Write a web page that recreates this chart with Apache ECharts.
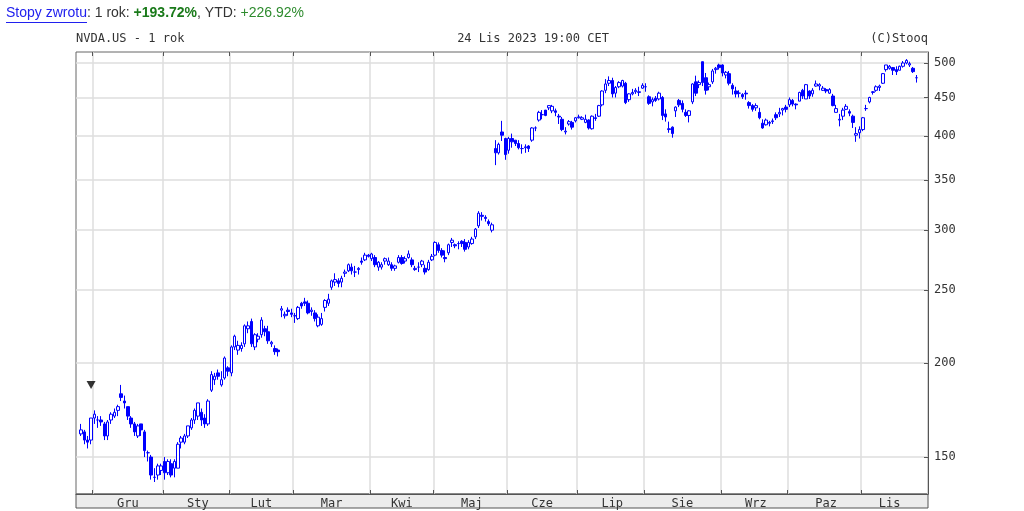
<!DOCTYPE html>
<html><head><meta charset="utf-8">
<script src="https://cdn.jsdelivr.net/npm/echarts@6/dist/echarts.min.js"></script>
<style>html,body{margin:0;padding:0;background:#fff}#c{width:1024px;height:511px}</style>
</head><body><div id="c"></div>
<script>
// [open, close, low, high]
const nov22=[[161,163,160,166],[162,158,156,163],[158,157,154,160],[158,169,156,169]];
const dec22=[[169,171,166,173],[168,168,164,170],[168,167,165,170],[166,160,158,167],[160,167,158,168],[168,171,166,172],[170,172,169,174],[173,175,170,176],[182,180,178,187],[178,177,174,181],[175,170,168,175],[169,166,164,170],[166,162,160,167],[160,165,159,166],[166,163,160,166],[162,153,150,163],[152,152,148,153],[150,142,140,151],[141,141,139,145],[142,146,140,147],[144,146,142,147]];
const jan23=[[148,143,140,150],[143,148,142,149],[147,142,141,149],[145,148,141,149],[145,156,145,157],[157,159,154,160],[157,160,156,161],[160,165,159,165],[164,168,163,169],[168,173,166,174],[170,177,168,177],[172,168,165,174],[169,166,164,171],[166,178,165,179],[184,193,183,195],[190,192,187,194],[194,192,190,196],[187,190,186,195],[191,203,190,204],[197,195,192,198]];
const feb23=[[194,210,192,211],[210,217,208,218],[208,211,205,214],[209,211,207,213],[212,224,210,225],[222,224,219,227],[227,212,210,229],[210,218,208,219],[215,217,213,219],[218,228,216,230],[222,220,217,224],[220,214,212,224],[212,213,210,214],[209,207,205,211],[208,207,204,209],[235,236,230,238],[231,232,229,234],[235,234,231,237],[233,232,230,236]];
const mar23=[[231,231,226,233],[229,237,228,238],[240,238,236,241],[241,240,238,244],[240,233,232,242],[234,235,231,237],[233,229,227,235],[224,230,223,232],[225,229,224,233],[237,242,234,243],[240,243,238,247],[252,257,250,258],[256,258,253,263],[257,255,252,259],[256,259,252,261],[263,264,260,266],[265,270,264,271],[268,265,262,271],[264,264,260,269],[266,267,262,268],[273,272,270,276],[274,278,273,280],[278,277,276,279]];
const apr23=[[275,279,273,280],[276,270,268,278],[268,272,265,273],[268,270,266,272],[273,275,270,276],[270,273,269,276],[270,267,265,272],[267,269,265,270],[272,276,271,278],[276,271,270,278],[273,275,271,277],[276,279,275,282],[274,270,268,276],[266,267,265,269],[268,268,264,272],[270,273,268,274],[267,264,262,270],[266,272,265,274],[274,277,273,279]];
const may23=[[278,289,277,290],[287,282,280,289],[282,278,276,284],[276,275,272,282],[280,287,278,288],[289,291,285,293],[287,286,284,288],[288,288,283,290],[290,288,285,291],[289,283,281,292],[285,289,283,291],[288,292,287,294],[294,301,292,302],[304,316,302,318],[314,313,309,317],[312,311,308,314],[308,306,304,310],[300,305,298,307],[385,380,366,395],[380,390,378,392],[405,401,394,419],[397,378,372,398]];
const jun23=[[383,397,379,399],[397,393,386,403],[395,391,388,395],[391,386,384,395],[385,385,379,390],[386,387,380,390],[388,385,381,389],[395,410,393,411],[410,410,406,412],[420,430,418,432],[427,427,421,433],[433,426,425,433],[436,439,433,439],[432,438,429,440],[432,430,425,435],[425,424,415,428],[421,408,406,424],[405,406,402,411],[415,418,413,420],[417,411,408,419],[419,423,417,424]];
const jul23=[[423,424,422,427],[421,423,420,425],[417,421,416,427],[420,410,408,421],[409,425,408,426],[423,422,419,428],[425,439,424,440],[440,459,438,460],[460,469,456,476],[470,474,466,480],[474,455,450,478],[456,464,450,466],[465,471,463,473],[466,474,464,475],[470,443,441,472],[447,455,444,456],[455,457,453,462],[458,460,455,463],[457,458,452,465],[463,467,462,470]];
const aug23=[[465,465,458,470],[451,442,440,453],[444,447,438,450],[449,446,444,452],[448,456,446,458],[450,426,420,452],[428,424,418,434],[409,408,404,418],[411,403,398,412],[432,437,424,438],[446,440,437,448],[442,434,430,446],[430,426,424,434],[426,432,417,433],[444,469,441,470],[472,456,452,481],[468,471,463,474],[502,471,466,502],[478,460,454,485],[465,468,460,471],[472,488,469,491],[490,492,484,494],[497,493,490,499]];
const sep23=[[497,485,480,498],[482,486,477,488],[484,470,467,488],[467,462,454,470],[459,455,450,465],[456,456,450,460],[454,451,448,456],[456,455,447,460],[443,439,435,445],[439,434,431,441],[436,439,432,442],[430,423,421,436],[416,410,409,421],[414,420,413,422],[417,416,412,419],[418,419,415,422],[427,423,420,430],[428,430,424,436],[433,435,426,436],[437,434,430,440]];
const oct23=[[440,447,437,450],[446,441,438,448],[441,440,434,442],[445,457,445,458],[460,452,448,462],[448,468,448,469],[459,452,448,460],[455,460,451,463],[466,469,465,474],[466,468,460,470],[460,463,459,466],[461,459,456,463],[456,461,455,463],[452,439,438,455],[430,435,430,440],[420,421,412,428],[425,433,420,436],[434,438,433,441],[431,429,425,434],[425,417,410,427],[401,403,393,411],[404,408,397,412]];
const nov23=[[408,423,406,424],[435,435,432,440],[444,450,442,451],[457,458,454,459],[460,465,458,467],[464,466,459,468],[470,484,469,485],[490,497,487,497],[492,495,490,497],[493,489,482,494],[490,487,482,495],[489,495,489,496],[495,500,493,503],[500,504,498,506],[497,499,494,502],[492,487,485,494],[478,478,471,482]];
const monthNames=['Sty','Lut','Mar','Kwi','Maj','Cze','Lip','Sie','Wrz','Paz','Lis','Gru'];
const yTicks=[150,200,250,300,350,400,450,500];
const holidays=['2022-12-26','2023-01-02','2023-01-16','2023-02-20','2023-04-07','2023-05-29','2023-06-19','2023-07-04','2023-09-04','2023-11-23'];
const markerDay='2022-11-30', markerValue=187;
const padStart=1, padEnd=3;

const ohlc=[].concat(nov22,dec22,jan23,feb23,mar23,apr23,may23,jun23,jul23,aug23,sep23,oct23,nov23);
const dates=[];
let d=new Date(Date.UTC(2022,10,25));
while(dates.length<ohlc.length){
  const s=d.toISOString().slice(0,10), wd=d.getUTCDay();
  if(wd!==0&&wd!==6&&holidays.indexOf(s)<0) dates.push(s);
  d=new Date(d.getTime()+86400000);
}
const cats=[], data=[];
for(let i=0;i<padStart;i++){cats.push('p'+i);data.push('-');}
dates.forEach((s,i)=>{cats.push(s);data.push(ohlc[i]);});
for(let i=0;i<padEnd;i++){cats.push('q'+i);data.push('-');}
const mon=i=>cats[i].length===10?cats[i].slice(0,7):null;
const isStart=i=>i>0&&mon(i)&&mon(i-1)&&mon(i)!==mon(i-1);
const midIdx={};
(function(){const g={};cats.forEach((s,i)=>{const m=mon(i);if(m)(g[m]=g[m]||[]).push(i);});
 Object.keys(g).forEach(k=>{const a=g[k];if(a.length>10)midIdx[a[Math.floor(a.length/2)]]=true;});})();

const chart=echarts.init(document.getElementById('c'));
const mono='DejaVu Sans Mono';
const gridL=76,gridR=96,gridT=52,gridB=17;
chart.setOption({
  animation:false,
  grid:{left:gridL,right:gridR,top:gridT,bottom:gridB,show:true,borderColor:'#666',borderWidth:1},
  xAxis:[{type:'category',data:cats,boundaryGap:true,position:'bottom',
    axisLine:{show:true,lineStyle:{color:'#555'}},
    axisTick:{show:true,inside:true,length:4,interval:(i)=>isStart(i),lineStyle:{color:'#555'}},
    axisLabel:{interval:(i)=>!!midIdx[i],margin:4,fontFamily:mono,fontSize:12,color:'#333',
      formatter:(v)=>{const m=parseInt(v.slice(5,7),10);return monthNames[m-1];}},
    splitLine:{show:true,interval:(i)=>isStart(i),lineStyle:{color:'#dedede',width:1.5}}},
   {type:'category',data:cats,boundaryGap:true,position:'top',
    axisLine:{show:false},axisLabel:{show:false},
    axisTick:{show:true,inside:true,length:4,interval:(i)=>isStart(i),lineStyle:{color:'#555'}}}],
  yAxis:{type:'log',logBase:10,min:134.0,max:517.1,position:'right',
    axisLine:{show:true,lineStyle:{color:'#555'}},
    axisTick:{show:true,inside:true,length:4,customValues:yTicks,lineStyle:{color:'#555'}},
    axisLabel:{customValues:yTicks,margin:6,fontFamily:mono,fontSize:12,color:'#333',formatter:v=>String(Math.round(v))},
    splitLine:{show:false}},
  series:[{type:'candlestick',data:data,barWidth:3,
    itemStyle:{color:'#ffffff',color0:'#0000ff',borderColor:'#0000ff',borderColor0:'#0000ff',borderWidth:1},
    markLine:{silent:true,symbol:'none',label:{show:false},z:0,
      lineStyle:{color:'#dedede',width:1.5,type:'solid'},
      data:yTicks.map(v=>({yAxis:v}))}},
   {type:'scatter',data:[[markerDay,markerValue]],symbol:'triangle',symbolRotate:180,symbolSize:[9,8],itemStyle:{color:'#000'}}],
  graphic:[
    {type:'rect',shape:{x:gridL,y:494,width:1024-gridL-gridR,height:14},style:{fill:'#ececec',stroke:'#555',lineWidth:1},z:-1},
    {type:'text',left:6,top:6,style:{rich:{
      a:{fill:'#2020ee',fontFamily:'Liberation Sans',fontSize:14},
      b:{fill:'#333',fontFamily:'Liberation Sans',fontSize:14},
      g:{fill:'#1a7a1a',fontFamily:'Liberation Sans',fontSize:14,fontWeight:'bold'},
      h:{fill:'#2e8b2e',fontFamily:'Liberation Sans',fontSize:14}},
      text:'{a|Stopy zwrotu}{b|: 1 rok: }{g|+193.72%}{b|, YTD: }{h|+226.92%}'}},
    {type:'line',shape:{x1:6,y1:22.5,x2:87,y2:22.5},style:{stroke:'#2020ee',lineWidth:1}},
    {type:'text',left:76,top:33,style:{text:'NVDA.US - 1 rok',fontFamily:mono,fontSize:12,fill:'#333'}},
    {type:'text',x:533,y:33,style:{text:'24 Lis 2023 19:00 CET',fontFamily:mono,fontSize:12,fill:'#333',align:'center'}},
    {type:'text',x:928,y:33,style:{text:'(C)Stooq',fontFamily:mono,fontSize:12,fill:'#333',align:'right'}}
  ]
});
</script></body></html>
